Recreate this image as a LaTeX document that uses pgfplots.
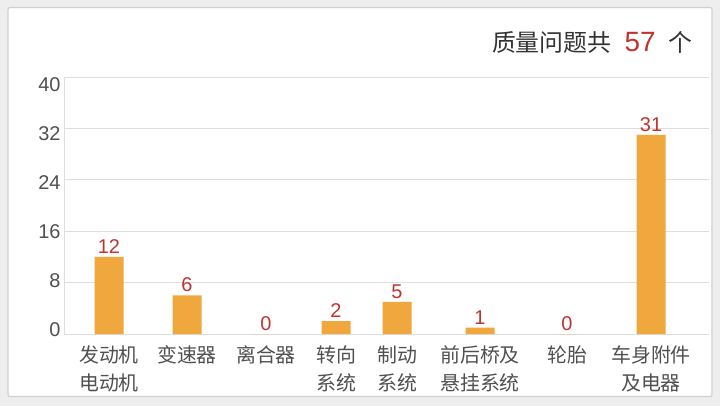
\documentclass[border=0pt]{standalone}
\usepackage{fontspec}
\setmainfont{Liberation Sans}
\newfontfamily\cjk{Noto Sans CJK SC}
\usepackage{pgfplots}
\pgfplotsset{compat=1.18}

\definecolor{barorange}{RGB}{240,168,62}
\definecolor{valred}{RGB}{192,52,48}
\definecolor{gridgrey}{RGB}{222,222,222}
\definecolor{txtgrey}{RGB}{80,80,80}
\definecolor{bggrey}{RGB}{238,238,238}
\definecolor{panelline}{RGB}{208,208,208}

\pgfplotstableread{
x    y
109  12
187  6
266  0
336  2
397  5
480  1
567  0
651  31
}\faults

\begin{document}
\begin{tikzpicture}[x=1bp,y=1bp]
\fill[bggrey] (0,0) rectangle (720,406);
\filldraw[fill=white, draw=panelline, line width=1.2bp, rounded corners=2bp] (8,9.5) rectangle (712,398.5);

% title, right aligned
\node[anchor=base east, inner sep=0pt, text=black!80] at (693,354.5)
  {\cjk\fontsize{24}{28}\selectfont 质量问题共\hspace{0.55em}{\normalfont\fontsize{28}{30}\selectfont\color{valred}57}\hspace{0.55em}个};

\begin{axis}[
  at={(64bp,72bp)}, anchor=south west,
  scale only axis, width=645bp, height=257bp,
  xmin=64, xmax=709, ymin=0, ymax=40,
  axis x line*=bottom, axis y line*=left,
  axis line style={draw=gridgrey, line width=1bp},
  ymajorgrids, major grid style={draw=gridgrey, line width=1bp},
  tick style={draw=none},
  ytick={0,8,...,40},
  /pgf/number format/assume math mode=true,
  yticklabel style={font=\fontsize{20}{24}\selectfont, text=txtgrey,
    yshift={4.5bp-2.5bp*\ticknum}},
  xtick={109,187,266,336,397,480,567,651},
  % every label has two lines, so that anchor=base falls on the second line
  xticklabels={{发动机\\电动机},{变速器\\\mbox{}},{离合器\\\mbox{}},{转向\\系统},{制动\\系统},{前后桥及\\悬挂系统},{轮胎\\\mbox{}},{车身附件\\及电器}},
  xticklabel style={font=\cjk\fontsize{20}{28}\selectfont, text=txtgrey,
    align=center, anchor=base, yshift=-56.6bp},
  clip=false,
]
\addplot[ybar, bar width=29bp, fill=barorange, draw=none,
  nodes near coords,
  nodes near coords style={font=\fontsize{20}{24}\selectfont, text=valred, anchor=south}]
  table[x=x, y=y] {\faults};
\end{axis}
\pgfresetboundingbox
\useasboundingbox (0,0) rectangle (720,406);
\end{tikzpicture}
\end{document}
